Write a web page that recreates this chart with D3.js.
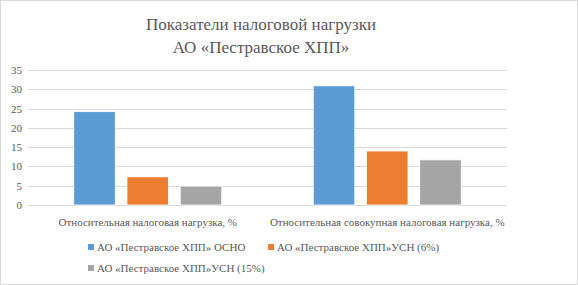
<!DOCTYPE html>
<html><head><meta charset="utf-8">
<script src="https://cdn.jsdelivr.net/npm/d3@7"></script>
<style>
html,body{margin:0;padding:0;background:#fff;}
svg{display:block;}
svg text{font-family:"Liberation Serif", serif;}
</style></head>
<body>
<script>
const categories = ["Относительная налоговая нагрузка, %", "Относительная совокупная налоговая нагрузка, %"];
const seriesNames = ["АО «Пестравское ХПП» ОСНО", "АО «Пестравское ХПП»УСН (6%)", "АО «Пестравское ХПП»УСН (15%)"];
const osno = [24.2, 30.9];
const usn6 = [7.3, 14.0];
const usn15 = [4.9, 11.7];
const yTicks = [0, 5, 10, 15, 20, 25, 30, 35];
const colors = ["#5b9bd5", "#ed7d31", "#a5a5a5"];
const titleLines = ["Показатели налоговой нагрузки", "АО «Пестравское ХПП»"];

const FONT = "Liberation Serif";
const W = 578, H = 285;
const svg = d3.select("body").append("svg").attr("width", W).attr("height", H)
  .attr("font-family", FONT);
svg.append("rect").attr("x", 0.5).attr("y", 0.5).attr("width", W - 1).attr("height", H - 1)
  .attr("fill", "#fff").attr("stroke", "#d9d9d9");

const x0 = d3.scaleBand().domain(categories).range([28, 507]).paddingInner(0).paddingOuter(0);
const y = d3.scaleLinear().domain([0, 35]).range([205, 70]);

// title
svg.append("g").selectAll("text").data(titleLines).join("text")
  .attr("x", 261).attr("y", (d, i) => 30 + i * 23)
  .attr("text-anchor", "middle").attr("font-size", 17).attr("fill", "#595959")
  .attr("font-family", FONT).text(d => d);

// grid
svg.append("g").selectAll("line").data(yTicks).join("line")
  .attr("x1", 28).attr("x2", 507).attr("y1", d => Math.round(y(d)) + 0.5).attr("y2", d => Math.round(y(d)) + 0.5)
  .attr("stroke", "#d9d9d9").attr("stroke-width", 1);

// y axis labels
const yAxis = d3.axisLeft(y).tickValues(yTicks).tickSize(0).tickPadding(0);
const ga = svg.append("g").attr("transform", "translate(22,0)").call(yAxis);
ga.attr("font-family", FONT);
ga.select(".domain").remove();
ga.selectAll("text").attr("font-size", 11).attr("fill", "#595959").attr("font-family", FONT);

const series = [osno, usn6, usn15];
const x1 = d3.scaleBand().domain(d3.range(3)).range([0, 148]).paddingInner(0.22).paddingOuter(0);
categories.forEach((c, ci) => {
  const off = x0(c) + x0.bandwidth() / 2 - 74;
  svg.append("g").selectAll("rect").data(series.map((s, si) => ({si, v: s[ci]}))).join("rect")
    .attr("x", d => off + x1(d.si)).attr("width", x1.bandwidth())
    .attr("y", d => y(d.v)).attr("height", d => y(0) - y(d.v))
    .attr("fill", d => colors[d.si]).attr("stroke", "#fff").attr("stroke-width", 0.8);
});

// category labels
svg.append("g").selectAll("text").data(categories).join("text")
  .attr("x", d => x0(d) + x0.bandwidth() / 2).attr("y", 226)
  .attr("text-anchor", "middle").attr("font-size", 11).attr("fill", "#595959")
  .attr("font-family", FONT).text(d => d);

// legend
const legPos = [[88, 251], [268, 251], [88, 272]];
const lg = svg.append("g").selectAll("g").data(seriesNames).join("g")
  .attr("transform", (d, i) => `translate(${legPos[i][0]},${legPos[i][1]})`);
lg.append("rect").attr("x", 0).attr("y", -7).attr("width", 6).attr("height", 6).attr("fill", (d, i) => colors[i]);
lg.append("text").attr("x", 9).attr("y", 0).attr("font-size", 11).attr("fill", "#595959")
  .attr("font-family", FONT).text(d => d);
</script>
</body></html>
